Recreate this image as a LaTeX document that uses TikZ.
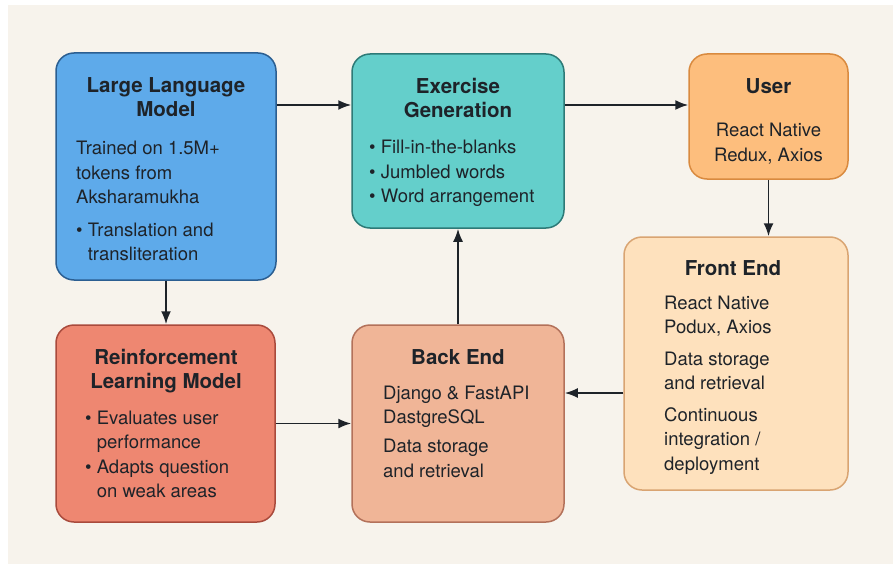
\documentclass[tikz,border=0pt]{standalone}
\usepackage{fontspec}
\setmainfont{TeX Gyre Heros}
\usetikzlibrary{arrows.meta}

\definecolor{paper}{HTML}{F7F3EC}
\definecolor{ink}{HTML}{1E2329}
\definecolor{llmfill}{HTML}{5EAAEA}\definecolor{llmline}{HTML}{2B5E91}
\definecolor{exfill}{HTML}{64CFCB}\definecolor{exline}{HTML}{2D7A77}
\definecolor{userfill}{HTML}{FDBE7D}\definecolor{userline}{HTML}{D98A3F}
\definecolor{rlfill}{HTML}{EE8771}\definecolor{rlline}{HTML}{A94A3C}
\definecolor{befill}{HTML}{F0B597}\definecolor{beline}{HTML}{B3715A}
\definecolor{fefill}{HTML}{FEE1BD}\definecolor{feline}{HTML}{D9A472}

\tikzset{
  card/.style={rectangle, rounded corners=18pt, line width=1.5pt, inner sep=0pt},
  cardtitle/.style={anchor=north, align=center, inner sep=0pt, text=ink,
    font=\fontsize{20.5}{23.5}\selectfont\bfseries},
  cardbody/.style={anchor=north west, align=left, inner sep=0pt, text=ink,
    font=\fontsize{18.5}{24.5}\selectfont},
  cardcenter/.style={anchor=north, align=center, inner sep=0pt, text=ink,
    font=\fontsize{18.5}{25.5}\selectfont},
  arr/.style={line width=1.8pt, draw=ink, -{Latex[length=13pt,width=10pt]}}
}
\newcommand{\bul}{\textbullet\ }
\newcommand{\bulgap}{\hphantom{\textbullet\ }}

\begin{document}
\begin{tikzpicture}[x=1pt,y=-1pt]
  \useasboundingbox (0,0) rectangle (893,564);
  \fill[white] (0,0) rectangle (893,564);
  \fill[paper] (8,5) rectangle (893,564);

  % boxes
  \node[card, fill=llmfill, draw=llmline, minimum width=220pt, minimum height=227pt] (llm) at (166,166.5) {};
  \node[card, fill=exfill, draw=exline, minimum width=212pt, minimum height=174pt] (ex) at (458,141) {};
  \node[card, fill=userfill, draw=userline, minimum width=159pt, minimum height=125pt] (user) at (768.5,116.5) {};
  \node[card, fill=rlfill, draw=rlline, minimum width=219pt, minimum height=197pt] (rl) at (165.5,423.5) {};
  \node[card, fill=befill, draw=beline, minimum width=212pt, minimum height=197pt] (be) at (458,423.5) {};
  \node[card, fill=fefill, draw=feline, minimum width=224pt, minimum height=253pt] (fe) at (736,363.5) {};

  % Large Language Model
  \node[cardtitle] (llmT) at (166,77.5) {Large Language\\Model};
  \node[cardbody] (llmB) at (76,141) {Trained on 1.5M+\\tokens from\\Aksharamukha\\[8pt]\bul Translation and\\\bulgap transliteration};

  % Exercise Generation
  \node[cardtitle] (exT) at (458,78.5) {Exercise\\Generation};
  \node[cardbody] (exB) at (369,140) {\bul Fill-in-the-blanks\\\bul Jumbled words\\\bul Word arrangement};

  % User
  \node[cardtitle] (userT) at (768.5,78.5) {User};
  \node[cardcenter] (userB) at (768.5,122.5) {React Native\\Redux, Axios};

  % Reinforcement Learning Model
  \node[cardtitle] (rlT) at (166,349.5) {Reinforcement\\Learning Model};
  \node[cardbody] (rlB) at (85,410.5) {\bul Evaluates user\\\bulgap performance\\\bul Adapts question\\\bulgap on weak areas};

  % Back End
  \node[cardtitle] (beT) at (458,349.5) {Back End};
  \node[cardbody] (beB) at (383,385.5) {Django \& FastAPI\\DastgreSQL\\[4.5pt]Data storage\\and retrieval};

  % Front End
  \node[cardtitle] (feT) at (733,260.5) {Front End};
  \node[cardbody] (feB) at (664,295.5) {React Native\\Podux, Axios\\[7pt]Data storage\\and retrieval\\[7pt]Continuous\\integration /\\deployment};

  % connectors
  \coordinate (topline) at ([yshift=61.5pt]llm.east);
  \coordinate (feline) at ([yshift=30.5pt]be.east);
  \draw[arr] (topline) -- (topline -| ex.west);
  \draw[arr] (ex.east |- topline) -- (topline -| user.west);
  \draw[arr] (user.south) -- (user.south |- fe.north);
  \draw[arr] (llm.south) -- (llm.south |- rl.north);
  \draw[arr] (rl.east) -- (rl.east -| be.west);
  \draw[arr] (feline -| fe.west) -- (feline);
  \draw[arr] (be.north) -- (ex.south);
\end{tikzpicture}
\end{document}
